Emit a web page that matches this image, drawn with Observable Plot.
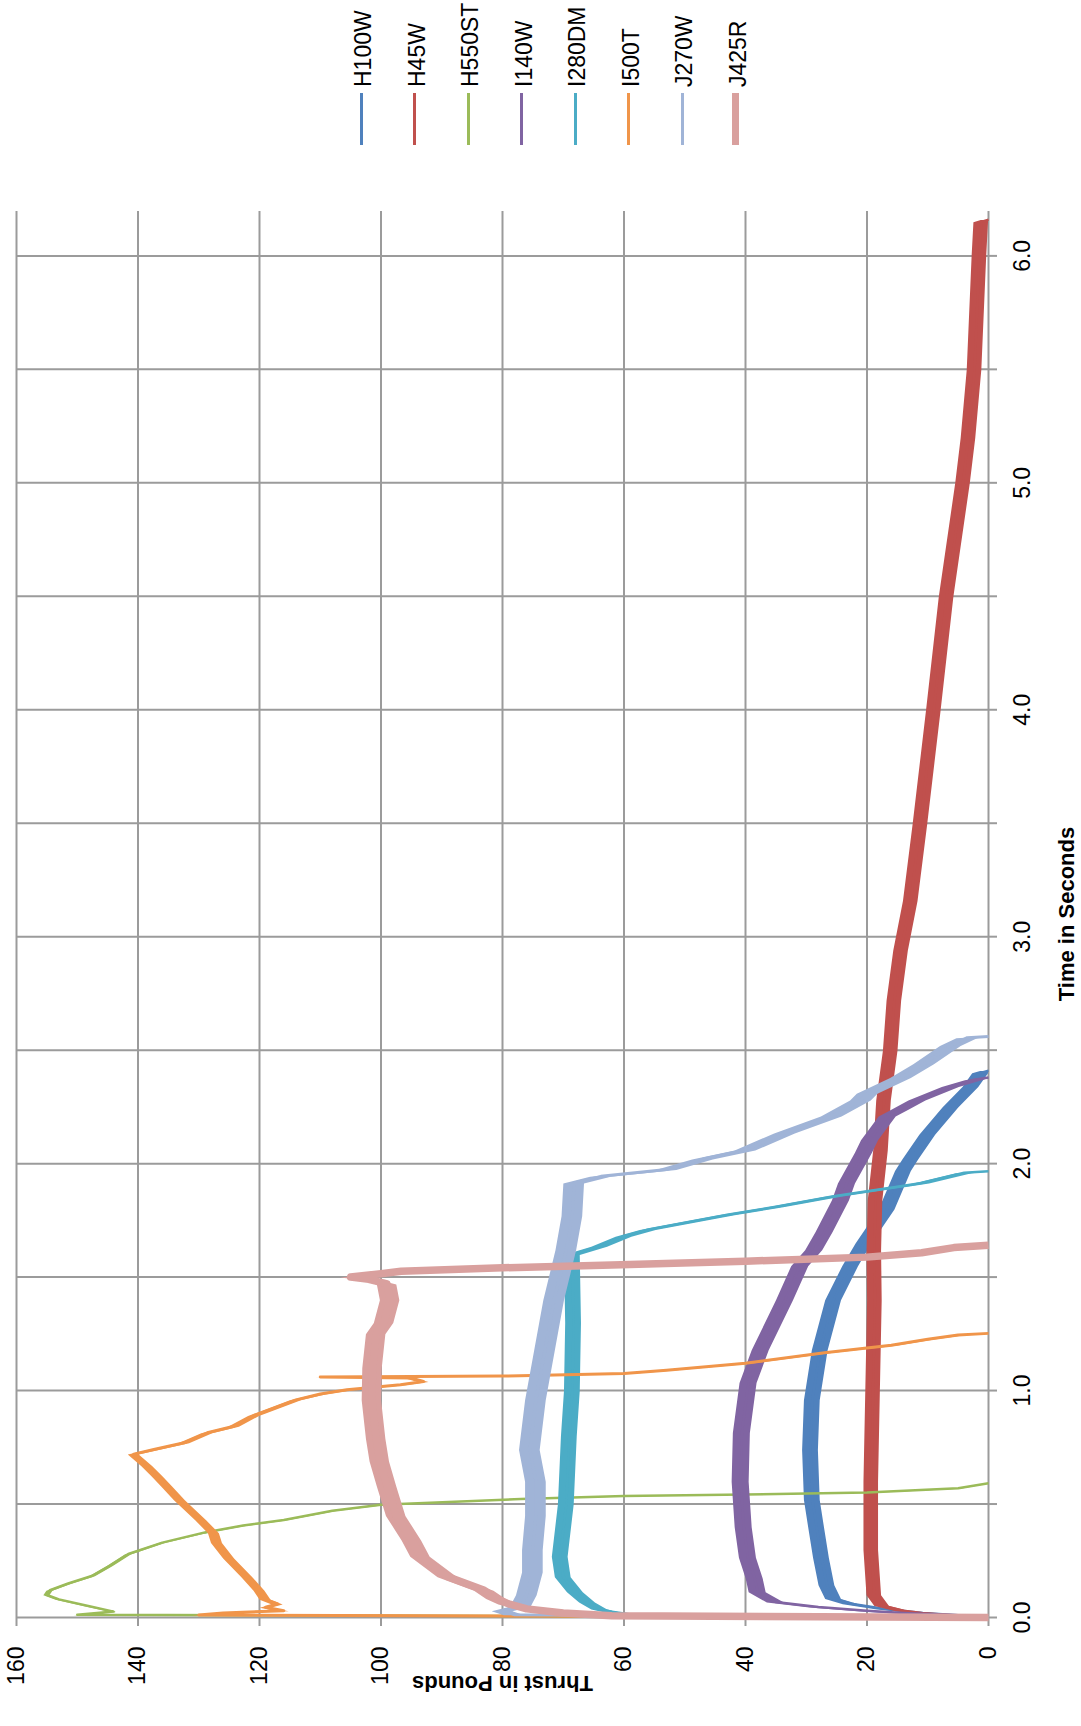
<!DOCTYPE html>
<html>
<head>
<meta charset="utf-8">
<script src="https://cdn.jsdelivr.net/npm/d3@7"></script>
<script src="https://cdn.jsdelivr.net/npm/@observablehq/plot@0.6"></script>
<style>
html, body { margin: 0; padding: 0; background: #fff; overflow: hidden; }
#page { position: relative; width: 1081px; height: 1726px; overflow: hidden; background: #fff; }
#rot { position: absolute; left: 0; top: 0; width: 1726px; height: 1081px;
       transform-origin: 0 0; transform: translate(0, 1726px) rotate(-90deg);
       font-family: "Liberation Sans", Arial, sans-serif; }
#plot { position: absolute; left: 0; top: 0; }
.lg-line { position: absolute; left: 1581px; width: 52px; }
.lg-text { position: absolute; left: 1639px; font-size: 23px; line-height: 23px; color: #000; white-space: nowrap; }
</style>
</head>
<body>
<div id="page"><div id="rot"><div id="plot"></div><div id="legend"></div></div></div>
<script>
// ---- data ----
const seriesNames  = ["H100W", "H45W", "H550ST", "I140W", "I280DM", "I500T", "J270W", "J425R"];
const seriesColors = ["#4F81BD", "#C0504D", "#9BBB59", "#8064A2", "#4BACC6", "#F0954A", "#A0B4D7", "#D9A09E"];

const h100wTime   = [0, 0.01, 0.02, 0.038, 0.061, 0.084, 0.144, 0.266, 0.4, 0.52, 0.74, 0.96, 1.18, 1.4, 1.55, 1.65, 1.8, 1.97, 2.02, 2.13, 2.25, 2.34, 2.4, 2.41];
const h100wThrust = [0, 5, 10.8, 17, 22.6, 25.5, 26.6, 27.5, 28.3, 29, 29.3, 29, 27.7, 25.5, 22.7, 20.5, 16.7, 14, 12.8, 10, 6.2, 2.9, 1.3, 0];

const h45wTime   = [0, 0.01, 0.02, 0.03, 0.053, 0.1, 0.3, 0.6, 1.0, 1.4, 1.62, 1.84, 2.06, 2.28, 2.5, 2.72, 2.94, 3.16, 3.5, 4.0, 4.5, 5.0, 5.2, 5.5, 6.0, 6.15, 6.16];
const h45wThrust = [0, 6, 11, 14, 17.5, 18.8, 19.3, 19.3, 19, 18.7, 18.8, 18.6, 17.7, 17.2, 16.1, 15.5, 14.4, 12.8, 11.2, 9, 6.9, 4.2, 3.3, 2.3, 1.5, 1.2, 0];

const h550stTime   = [0, 0.012, 0.026, 0.05, 0.08, 0.1, 0.12, 0.15, 0.184, 0.23, 0.28, 0.33, 0.375, 0.405, 0.43, 0.47, 0.497, 0.522, 0.535, 0.542, 0.551, 0.57, 0.592];
const h550stThrust = [0, 150, 144, 148, 153, 155, 154.5, 151.5, 147.5, 144.5, 141.6, 136, 129, 122.7, 116, 108, 100, 77, 60, 40, 20, 5, 0];

const i140wTime   = [0, 0.01, 0.02, 0.03, 0.046, 0.068, 0.114, 0.175, 0.266, 0.4, 0.6, 0.815, 1.035, 1.18, 1.4, 1.55, 1.62, 1.7, 1.84, 1.915, 2.05, 2.105, 2.21, 2.24, 2.28, 2.34, 2.37, 2.38];
const i140wThrust = [0, 5, 14, 20, 28, 35, 38, 38.5, 39.6, 40.3, 40.8, 40.6, 39.5, 37.5, 33.5, 31, 28.7, 27, 24.3, 23.3, 20.5, 19.5, 16.6, 14.5, 11.7, 6.2, 2.4, 0];

const i280dmTime   = [0, 0.01, 0.025, 0.038, 0.068, 0.114, 0.18, 0.27, 0.5, 0.8, 1.0, 1.3, 1.6, 1.636, 1.68, 1.71, 1.775, 1.81, 1.856, 1.9, 1.915, 1.96, 1.966];
const i280dmThrust = [0, 58, 62, 64, 66, 68, 70, 70.5, 69.5, 69, 68.5, 68.3, 68.5, 64, 60, 56, 43, 35, 25.5, 14.5, 11, 4, 0];

const i500tTime   = [0, 0.011, 0.02, 0.03, 0.045, 0.06, 0.08, 0.12, 0.18, 0.262, 0.33, 0.373, 0.431, 0.519, 0.58, 0.625, 0.67, 0.72, 0.74, 0.77, 0.814, 0.843, 0.89, 0.912, 0.959, 0.985, 1.004, 1.026, 1.04, 1.055, 1.06, 1.064, 1.075, 1.09, 1.12, 1.167, 1.2, 1.226, 1.245, 1.252];
const i500tThrust = [0, 130, 126, 116, 119, 117, 119, 120, 122, 125, 127, 127.5, 129.6, 133.1, 135.2, 136.8, 138.5, 140.7, 137.4, 132.4, 128.6, 124.2, 120.9, 118.7, 114, 110, 105.6, 96.8, 93, 95, 110, 80, 60, 53, 40, 27, 16, 10, 5, 0];

const j270wTime   = [0, 0.012, 0.03, 0.05, 0.1, 0.2, 0.3, 0.45, 0.6, 0.74, 0.96, 1.18, 1.4, 1.62, 1.77, 1.915, 1.944, 1.974, 2.02, 2.06, 2.135, 2.21, 2.28, 2.31, 2.38, 2.44, 2.52, 2.555, 2.56];
const j270wThrust = [0, 78, 80, 77, 76, 75, 75, 74.5, 74.5, 75.5, 74.5, 73, 71.5, 69.5, 68.5, 68.2, 63.8, 53, 47, 40, 33.5, 25.8, 21, 19.9, 14.4, 10.6, 6.2, 3.5, 0];

const j425rTime   = [0, 0.008, 0.02, 0.038, 0.06, 0.084, 0.12, 0.18, 0.27, 0.34, 0.45, 0.58, 0.69, 0.79, 0.96, 1.1, 1.25, 1.3, 1.4, 1.47, 1.49, 1.5, 1.515, 1.526, 1.541, 1.553, 1.57, 1.588, 1.607, 1.63, 1.64];
const j425rThrust = [0, 62, 70, 76, 79, 81, 83, 89, 93.5, 94.9, 97.5, 99, 100.2, 100.8, 101.5, 101.4, 100.8, 99.5, 98.5, 99, 102, 105, 100, 96.7, 80, 62, 40, 20, 11, 5.7, 0];

// half-width of the jagged noise band of each trace, in pounds
const noiseBand  = [1.3, 1.2, 0.5, 1.4, 1.3, 0.9, 1.7, 1.6];
const lineWidths = [2.5, 2.5, 2.5, 2.5, 2.5, 3, 3, 7.5];

const timeGrid    = [0, 0.5, 1, 1.5, 2, 2.5, 3, 3.5, 4, 4.5, 5, 5.5, 6];
const timeLabels  = [0, 1, 2, 3, 4, 5, 6];
const thrustTicks = [0, 20, 40, 60, 80, 100, 120, 140, 160];

const seriesTimes   = [h100wTime, h45wTime, h550stTime, i140wTime, i280dmTime, i500tTime, j270wTime, j425rTime];
const seriesThrusts = [h100wThrust, h45wThrust, h550stThrust, i140wThrust, i280dmThrust, i500tThrust, j270wThrust, j425rThrust];

// ---- build ----
const gridColor = "#9b9b9b";
const rows = seriesNames.map((name, i) => seriesTimes[i].map((t, j) => {
  const T = seriesThrusts[i][j];
  return {name, t, T, lo: Math.max(0, T - noiseBand[i]), hi: T + noiseBand[i]};
}));

const seriesMarks = rows.flatMap((r, i) => [
  Plot.areaY(r, {x: "t", y1: "lo", y2: "hi", fill: seriesColors[i]}),
  Plot.line(r, {x: "t", y: "T", stroke: seriesColors[i], strokeWidth: lineWidths[i], strokeLinejoin: "round", strokeLinecap: "butt"})
]);

const chart = Plot.plot({
  width: 1726,
  height: 1081,
  marginLeft: 108,
  marginRight: 211,
  marginTop: 16,
  marginBottom: 93,
  style: {fontFamily: "Liberation Sans, Arial, sans-serif", fontSize: "23px", background: "transparent", color: "#000", overflow: "visible"},
  x: {domain: [0, 6.2]},
  y: {domain: [0, 160]},
  marks: [
    Plot.gridY({ticks: thrustTicks, stroke: gridColor, strokeOpacity: 1, strokeWidth: 2}),
    Plot.gridX({ticks: timeGrid, stroke: gridColor, strokeOpacity: 1, strokeWidth: 2}),
    Plot.axisX({ticks: timeGrid, tickSize: 9, tickFormat: () => "", stroke: gridColor, strokeWidth: 2, label: null}),
    Plot.axisY({ticks: thrustTicks, tickSize: 8, tickFormat: () => "", stroke: gridColor, strokeWidth: 2, label: null}),
    ...seriesMarks,
    Plot.text(timeLabels, {x: d => d, frameAnchor: "bottom", dy: 34, text: d => d.toFixed(1), fontSize: 23, lineAnchor: "middle", fill: "#000"}),
    Plot.text(thrustTicks, {y: d => d, frameAnchor: "left", dx: -29, textAnchor: "end", text: d => String(d), fontSize: 23, lineAnchor: "middle", fill: "#000"}),
    Plot.text(["Thrust in Pounds"], {frameAnchor: "left", dx: -66, rotate: -90, text: d => d, fontSize: 22, fontWeight: "bold", textAnchor: "middle", lineAnchor: "middle", fill: "#000"}),
    Plot.text(["Time in Seconds"], {frameAnchor: "bottom", dy: 78, text: d => d, fontSize: 22, fontWeight: "bold", textAnchor: "middle", lineAnchor: "middle", fill: "#000"})
  ]
});
document.getElementById("plot").appendChild(chart);

// legend (to the right of the plot in chart orientation)
const legend = document.getElementById("legend");
seriesNames.forEach((name, i) => {
  const v = 361.3 + 53.5 * i;
  const h = i === 7 ? 7 : 2.8;
  const ln = document.createElement("div");
  ln.className = "lg-line";
  ln.style.top = (v - h / 2) + "px";
  ln.style.height = h + "px";
  ln.style.background = seriesColors[i];
  legend.appendChild(ln);
  const tx = document.createElement("div");
  tx.className = "lg-text";
  tx.style.top = (v - 9) + "px";
  tx.textContent = name;
  legend.appendChild(tx);
});
</script>
</body>
</html>
